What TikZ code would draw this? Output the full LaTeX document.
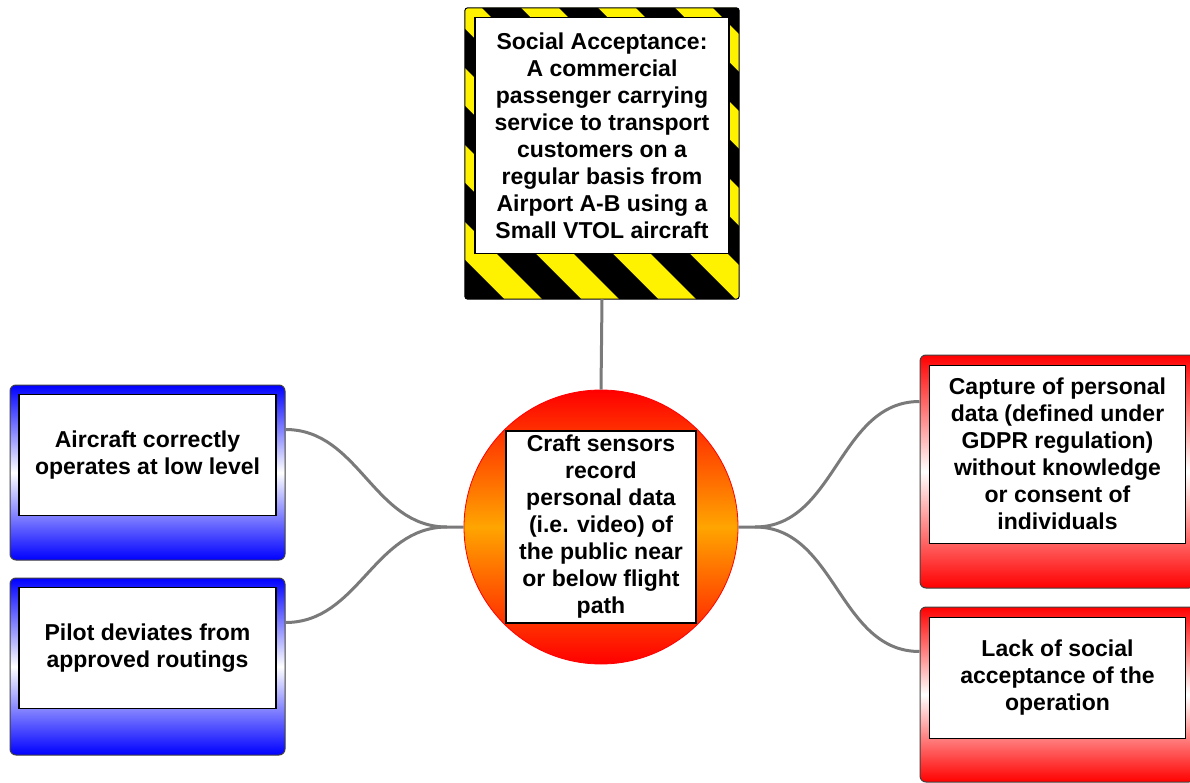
\documentclass[tikz,border=0pt]{standalone}
\usepackage{fontspec}
\setmainfont{Liberation Sans}
\usetikzlibrary{positioning}
\definecolor{link_gray}{RGB}{122,122,122}
\definecolor{event_orange}{RGB}{255,165,0}
\tikzset{
        boxtext/.style={align=center,inner sep=0pt,font=\bfseries\fontsize{23}{27}\selectfont},
        % White text panels
        node_label/.style={boxtext, rectangle, draw=black, line width=1.2pt, fill=white},
        % Hazard (striped) box
        node_hazard/.style={rectangle, rounded corners=3pt, fill=yellow, minimum width=274pt, minimum height=291pt},
        % Top event circle
        node_event/.style={circle, draw=red, line width=0.8pt, top color=red, bottom color=red, middle color=event_orange, minimum size=274pt},
        % Threat boxes
        node_threat/.style={rectangle, rounded corners=6pt, draw=black!75, line width=1pt, top color=blue, bottom color=blue, middle color=white, minimum width=275pt},
        % Consequence boxes
        node_consequence/.style={rectangle, rounded corners=6pt, draw=black!75, line width=1pt, top color=red, bottom color=red, middle color=white, minimum width=275pt},
        % Connectors
        link/.style={draw=link_gray, line width=3pt}
}
\begin{document}
\begin{tikzpicture}[x=1pt, y=-1pt]
            \useasboundingbox (0,0) rectangle (1190,783);
            % hazard
            \node[node_hazard] (hazard) at (602,153.5) {};
            \begin{scope}
                \clip[rounded corners=3pt] (hazard.south west) rectangle (hazard.north east);
                \foreach \k in {-3,...,6} {
                    \fill[black] ({320+77*\k},0) -- ({359+77*\k},0) -- ({679+77*\k},320) -- ({640+77*\k},320) -- cycle;
                }
            \end{scope}
            \draw[black, line width=1pt, rounded corners=3pt] (hazard.south west) rectangle (hazard.north east);
            \node[node_label, minimum width=254pt, minimum height=236pt, below=9pt of hazard.north] (hazard_text)
                {Social Acceptance:\\A commercial\\passenger carrying\\service to transport\\customers on a\\regular basis from\\Airport A-B using a\\Small VTOL aircraft};
            % top event
            \node[node_event] (event) at (601,527) {};
            \node[node_label, minimum width=190pt, minimum height=192pt] (event_text) at (event)
                {Craft sensors\\record\\personal data\\(i.e. video) of\\the public near\\or below flight\\path};
            % threats
            \node[node_threat, minimum height=175pt] (threat_low) at (147.5,472.5) {};
            \node[node_label, minimum width=257pt, minimum height=121pt, below=9pt of threat_low.north] (threat_low_text)
                {Aircraft correctly\\operates at low level};
            \node[node_threat, minimum height=177pt] (threat_route) at (147.5,666.5) {};
            \node[node_label, minimum width=257pt, minimum height=121pt, below=9pt of threat_route.north] (threat_route_text)
                {Pilot deviates from\\approved routings};
            % consequences
            \node[node_consequence, minimum height=233pt] (cons_data) at (1057.5,471.5) {};
            \node[node_label, minimum width=256pt, minimum height=178pt, below=10pt of cons_data.north] (cons_data_text)
                {Capture of personal\\data (defined under\\GDPR regulation)\\without knowledge\\or consent of\\individuals};
            \node[node_consequence, minimum height=175pt] (cons_social) at (1057.5,694.5) {};
            \node[node_label, minimum width=256pt, minimum height=121pt, below=10pt of cons_social.north] (cons_social_text)
                {Lack of social\\acceptance of the\\operation};
            % connectors
            \coordinate (left_join) at (447,527);
            \coordinate (right_join) at (755,527);
            \draw[link] (hazard.south) -- (event.north);
            \draw[link] ([yshift=-45pt]threat_low.north east) to[out=0,in=180] (left_join) -- (event.west);
            \draw[link] ([yshift=-45pt]threat_route.north east) to[out=0,in=180] (left_join);
            \draw[link] (event.east) -- (right_join) to[out=0,in=180] ([yshift=-47pt]cons_data.north west);
            \draw[link] (right_join) to[out=0,in=180] ([yshift=-45pt]cons_social.north west);
\end{tikzpicture}
\end{document}
